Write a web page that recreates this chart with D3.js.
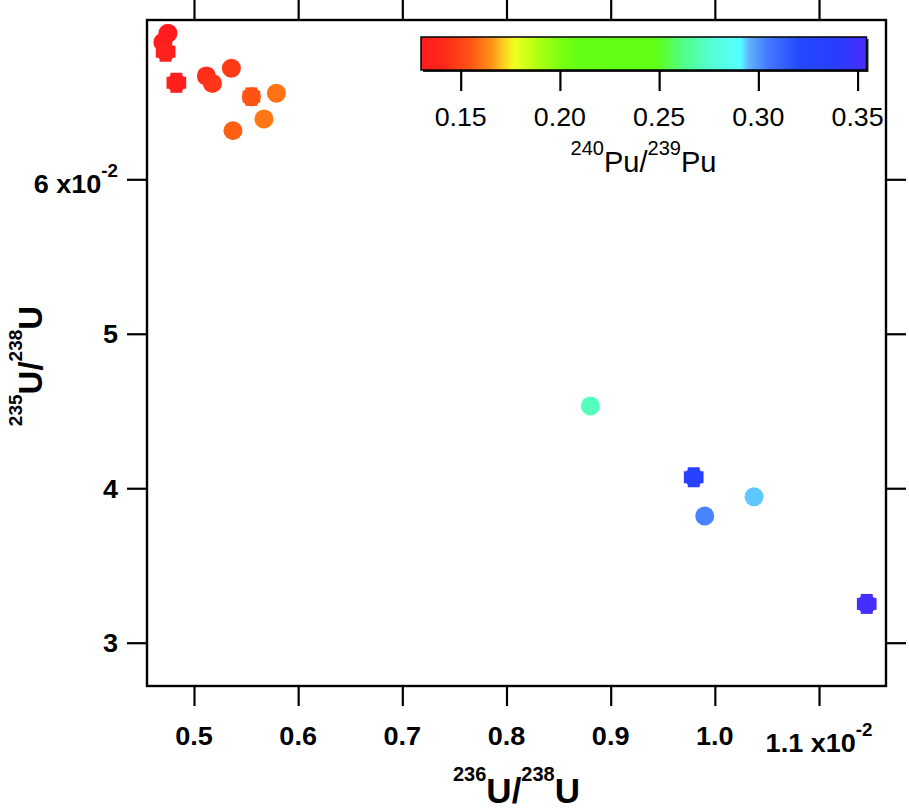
<!DOCTYPE html>
<html>
<head>
<meta charset="utf-8">
<script src="https://cdn.jsdelivr.net/npm/d3@7"></script>
<style>
  html, body { margin: 0; padding: 0; background: #fff; }
  svg { display: block; }
  text { font-family: "Liberation Sans", Arial, sans-serif; fill: #000; }
</style>
</head>
<body>
<svg id="chart" width="909" height="808"></svg>
<script>
// ---------------- data ----------------
// 236U/238U (x), 235U/238U (y), 240Pu/239Pu (colour)
const u236 = [0.004750, 0.004702, 0.004728, 0.004831, 0.005119, 0.005177, 0.005359, 0.005551, 0.005791, 0.005672, 0.005374,
              0.008805, 0.009797, 0.010376, 0.009903, 0.011458];
const u235 = [0.06945, 0.06887, 0.06826, 0.06625, 0.06669, 0.06621, 0.06719, 0.06535, 0.06557, 0.06390, 0.06315,
              0.04532, 0.04071, 0.03945, 0.03820, 0.03251];
const pu240 = [0.131, 0.133, 0.135, 0.134, 0.143, 0.145, 0.147, 0.154, 0.160, 0.161, 0.157,
               0.272, 0.333, 0.294, 0.303, 0.352];
const u236Err = [0.00004, 0.00004, 0.00008, 0.00008, 0.00006, 0.00006, 0.00004, 0.00007, 0.00004, 0.00004, 0.00004,
                 0, 0.00008, 0, 0, 0.00008];
const u235Err = [0.0003, 0.0003, 0.00055, 0.00055, 0.0004, 0.0004, 0.0003, 0.0005, 0.0003, 0.0003, 0.0003,
                 0, 0.00055, 0, 0, 0.00055];

const xTicks = [0.005, 0.006, 0.007, 0.008, 0.009, 0.010, 0.011];
const xTickLabels = ["0.5", "0.6", "0.7", "0.8", "0.9", "1.0", "1.1"];
const yTicks = [0.03, 0.04, 0.05, 0.06];
const yTickLabels = ["3", "4", "5", "6"];
const cTicks = [0.15, 0.20, 0.25, 0.30, 0.35];
const cTickLabels = ["0.15", "0.20", "0.25", "0.30", "0.35"];

// colour table (rainbow)
const cStopValues = [0.130, 0.142, 0.155, 0.166, 0.170, 0.177, 0.188, 0.199, 0.210, 0.248, 0.262, 0.276, 0.291, 0.295, 0.305, 0.321, 0.341, 0.3545];
const cStopColors = ["#ff1a1f", "#ff2a1a", "#ff5512", "#ff9418", "#ffc020", "#f0ff20", "#b4ff12", "#80ff10", "#62ff12", "#60ff14", "#50ff88", "#55ffd2", "#55ffff", "#62b4ff", "#4278ff", "#2448ff", "#2a3cff", "#4a2cff"];

// ---------------- layout ----------------
const svg = d3.select("#chart");
const L = 147, R = 886, T = 20, B = 686;
const x = d3.scaleLinear().domain([0.004549, 0.011643]).range([L, R]);
const y = d3.scaleLinear().domain([0.027197, 0.070313]).range([B, T]);
const color = d3.scaleLinear().domain(cStopValues).range(cStopColors).clamp(true);

// axes (ticks outward on all four sides)
const tickStyle = g => { g.select(".domain").remove(); g.selectAll("line").attr("stroke", "#000").attr("stroke-width", 2.2); g.selectAll("text").remove(); };
svg.append("g").attr("transform", `translate(0,${B})`).call(d3.axisBottom(x).tickValues(xTicks).tickSize(20)).call(tickStyle);
svg.append("g").attr("transform", `translate(0,${T})`).call(d3.axisTop(x).tickValues(xTicks).tickSize(20)).call(tickStyle);
svg.append("g").attr("transform", `translate(${L},0)`).call(d3.axisLeft(y).tickValues(yTicks).tickSize(20)).call(tickStyle);
svg.append("g").attr("transform", `translate(${R},0)`).call(d3.axisRight(y).tickValues(yTicks).tickSize(20)).call(tickStyle);

// frame
svg.append("rect").attr("x", L).attr("y", T).attr("width", R - L).attr("height", B - T)
  .attr("fill", "none").attr("stroke", "#000").attr("stroke-width", 2.4);

// x tick labels
const tickFont = 26;
const sx = 1.04;
xTicks.forEach((v, i) => {
  const last = i === xTicks.length - 1;
  const t = svg.append("text")
    .attr("x", x(v)).attr("y", last ? 752 : 745)
    .attr("text-anchor", "middle")
    .attr("font-weight", "bold").attr("font-size", tickFont)
    .attr("transform", `translate(${x(v)},0) scale(${sx},1) translate(${-x(v)},0)`);
  t.append("tspan").text(xTickLabels[i] + (last ? " x10" : ""));
  if (last) t.append("tspan").attr("dy", -16).attr("font-size", 18).text("-2");
});

// y tick labels
yTicks.forEach((v, i) => {
  const last = i === yTicks.length - 1;
  const t = svg.append("text")
    .attr("x", 118).attr("y", last ? y(v) + 14 : y(v) + 9.5)
    .attr("text-anchor", "end")
    .attr("font-weight", "bold").attr("font-size", tickFont)
    .attr("transform", `translate(118,0) scale(${sx},1) translate(-118,0)`);
  t.append("tspan").text(yTickLabels[i] + (last ? " x10" : ""));
  if (last) t.append("tspan").attr("dy", -16).attr("font-size", 18).text("-2");
});

// axis titles
const xt = svg.append("text").attr("x", (L + R) / 2).attr("y", 803)
  .attr("text-anchor", "middle").attr("font-weight", "bold").attr("font-size", 35);
xt.append("tspan").attr("font-size", 20).attr("dy", -22).text("236");
xt.append("tspan").attr("dy", 22).text("U/");
xt.append("tspan").attr("font-size", 20).attr("dy", -22).text("238");
xt.append("tspan").attr("dy", 22).text("U");

const yt = svg.append("text").attr("transform", `translate(42,366) rotate(-90)`)
  .attr("text-anchor", "middle").attr("font-weight", "bold").attr("font-size", 33);
yt.append("tspan").attr("font-size", 19).attr("dy", -20).text("235");
yt.append("tspan").attr("dy", 20).text("U/");
yt.append("tspan").attr("font-size", 19).attr("dy", -20).text("238");
yt.append("tspan").attr("dy", 20).text("U");

// ---------------- points ----------------
const pts = u236.map((d, i) => ({ x: d, y: u235[i], c: pu240[i], ex: u236Err[i], ey: u235Err[i] }));
const pg = svg.append("g");
const cap = 6;
pts.forEach(p => {
  const col = color(p.c);
  const g = pg.append("g").attr("stroke", col).attr("stroke-width", 3);
  if (p.ex > 0) {
    const x0 = x(p.x - p.ex), x1 = x(p.x + p.ex), cy = y(p.y);
    g.append("line").attr("x1", x0).attr("x2", x1).attr("y1", cy).attr("y2", cy);
    g.append("line").attr("x1", x0).attr("x2", x0).attr("y1", cy - cap).attr("y2", cy + cap);
    g.append("line").attr("x1", x1).attr("x2", x1).attr("y1", cy - cap).attr("y2", cy + cap);
  }
  if (p.ey > 0) {
    const y0 = y(p.y - p.ey), y1 = y(p.y + p.ey), cx = x(p.x);
    g.append("line").attr("x1", cx).attr("x2", cx).attr("y1", y0).attr("y2", y1);
    g.append("line").attr("x1", cx - cap).attr("x2", cx + cap).attr("y1", y0).attr("y2", y0);
    g.append("line").attr("x1", cx - cap).attr("x2", cx + cap).attr("y1", y1).attr("y2", y1);
  }
});
pg.selectAll("circle").data(pts).join("circle")
  .attr("cx", d => x(d.x)).attr("cy", d => y(d.y)).attr("r", 9.5)
  .attr("fill", d => color(d.c));

// ---------------- colour bar ----------------
const cb = d3.scaleLinear().domain([0.130, 0.3545]).range([421, 866.5]);
const cbT = 37, cbB = 70;
const defs = svg.append("defs");
const grad = defs.append("linearGradient").attr("id", "cbgrad").attr("x1", "0%").attr("x2", "100%").attr("y1", "0%").attr("y2", "0%");
cStopValues.forEach((v, i) => {
  grad.append("stop").attr("offset", ((cb(v) - 421) / (866.5 - 421) * 100) + "%").attr("stop-color", cStopColors[i]);
});
svg.append("rect").attr("x", 423).attr("y", cbT + 2).attr("width", 866.5 - 421).attr("height", cbB - cbT)
  .attr("fill", "#222");
svg.append("rect").attr("x", 421).attr("y", cbT).attr("width", 866.5 - 421).attr("height", cbB - cbT)
  .attr("fill", "url(#cbgrad)").attr("stroke", "#000").attr("stroke-width", 1.5);
svg.append("g").attr("transform", `translate(0,${cbB + 1})`)
  .call(d3.axisBottom(cb).tickValues(cTicks).tickSize(20))
  .call(g => { g.select(".domain").remove(); g.selectAll("line").attr("stroke", "#000").attr("stroke-width", 2.2); g.selectAll("text").remove(); });
cTicks.forEach((v, i) => {
  svg.append("text").attr("x", cb(v)).attr("y", 126).attr("text-anchor", "middle")
    .attr("font-size", 26)
    .attr("transform", `translate(${cb(v)},0) scale(1.03,1) translate(${-cb(v)},0)`)
    .text(cTickLabels[i]);
});
const ct = svg.append("text").attr("x", 643.5).attr("y", 171.5).attr("text-anchor", "middle").attr("font-size", 29);
ct.append("tspan").attr("font-size", 20).attr("dy", -17).text("240");
ct.append("tspan").attr("dy", 17).text("Pu/");
ct.append("tspan").attr("font-size", 20).attr("dy", -17).text("239");
ct.append("tspan").attr("dy", 17).text("Pu");
</script>
</body>
</html>
